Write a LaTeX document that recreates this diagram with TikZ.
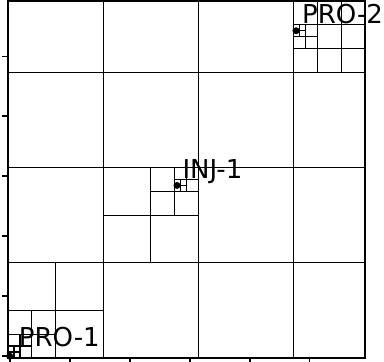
\documentclass[tikz,border=0pt]{standalone}
\usepackage{fontspec}
\setmainfont{DejaVu Sans}
\usepackage{tikz}
\usetikzlibrary{calc}

\begin{document}
\begin{tikzpicture}[x=59.5pt,y=59.5pt,
	cell/.style={draw=black,line width=1.3pt},
	border/.style={draw=black,line width=2.4pt},
	axtick/.style={draw=black,line width=1.6pt},
	well/.style={circle,fill=black,inner sep=0pt,minimum size=7pt},
	wname/.style={anchor=base west,inner sep=0pt,font=\fontsize{26}{30}\selectfont}]
	\useasboundingbox (-8pt,-4pt) rectangle (376pt,358pt);

	% coarse grid
	\foreach \c in {1.6,3.2,4.8}{
		\draw[cell] (\c,0) -- (\c,6);
		\draw[cell] (0,\c) -- (6,\c);
	}
	% local refinement around PRO-1
	\foreach \c in {0.8,0.4,0.2,0.1}{
		\draw[cell] (\c,0) -- (\c,2*\c);
		\draw[cell] (0,\c) -- (2*\c,\c);
	}
	% local refinement around INJ-1
	\draw[cell] (2.4,1.6) -- (2.4,3.2) (1.6,2.4) -- (3.2,2.4);
	\draw[cell] (2.8,2.4) -- (2.8,3.2) (2.4,2.8) -- (3.2,2.8);
	\draw[cell] (3.0,2.8) -- (3.0,3.2) (2.8,3.0) -- (3.2,3.0);
	\draw[cell] (2.9,2.8) -- (2.9,3.0) (2.8,2.9) -- (3.0,2.9);
	% local refinement around PRO-2
	\draw[cell] (5.2,4.8) -- (5.2,6) (5.6,4.8) -- (5.6,6);
	\draw[cell] (4.8,5.2) -- (6,5.2) (4.8,5.6) -- (6,5.6);
	\draw[cell] (5.0,5.2) -- (5.0,5.6) (4.8,5.4) -- (5.2,5.4);
	\draw[cell] (4.9,5.4) -- (4.9,5.6) (4.8,5.5) -- (5.0,5.5);

	\draw[border] (0,0) rectangle (6,6);
	\foreach \t in {0,...,5}{
		\draw[axtick] (0,\t*1.007+0.035) -- ++(-6pt,0);
		\draw[axtick] (\t*1.007+0.035,0) -- ++(0,-6pt);
	}

	\node[well] (pro1) at (0.03,0.03) {};
	\node[well] (inj1) at (2.84,2.9) {};
	\node[well] (pro2) at (4.84,5.5) {};
	\node[wname] (pro1-name) at ($(pro1)+(0.15,0.155)$) {PRO-1};
	\node[wname] (inj1-name) at ($(inj1)+(0.09,0.125)$) {INJ-1};
	\node[wname] (pro2-name) at ($(pro2)+(0.1,0.12)$) {PRO-2};
\end{tikzpicture}
\end{document}
